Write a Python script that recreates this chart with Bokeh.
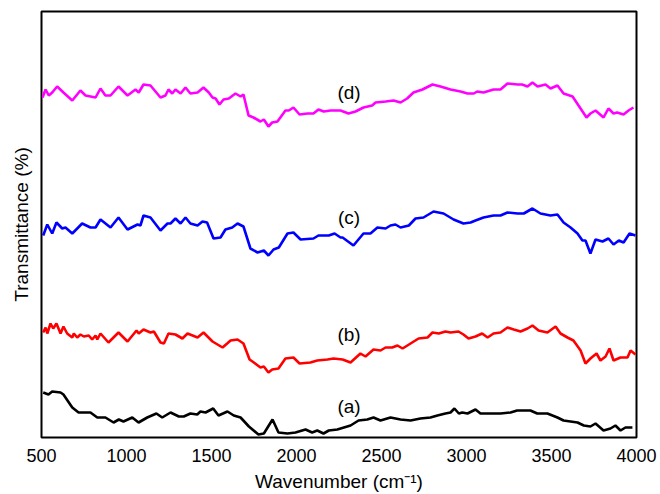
from bokeh.plotting import figure
from bokeh.models import Range1d, FixedTicker, Label
from bokeh.embed import file_html
from bokeh.resources import INLINE

# FTIR spectra, wavenumber (cm^-1) vs. transmittance (arbitrary offset units)
wn_d = [506, 524, 543, 563, 592, 629, 681, 729, 759, 818, 847, 876, 906, 953, 1006, 1053, 1072, 1100, 1141,
        1200, 1229, 1247, 1269, 1288, 1318, 1347, 1376, 1418, 1453, 1484, 1506, 1524, 1547, 1571, 1602, 1641,
        1671, 1688, 1718, 1747, 1788, 1808, 1835, 1857, 1888, 1935, 1955, 1982, 2018, 2065, 2100, 2129, 2160,
        2200, 2259, 2306, 2347, 2394, 2445, 2465, 2524, 2571, 2612, 2651, 2688, 2741, 2800, 2847, 2906, 2965,
        3006, 3043, 3063, 3100, 3159, 3200, 3241, 3300, 3327, 3359, 3388, 3418, 3465, 3494, 3535, 3571, 3624,
        3659, 3706, 3729, 3759, 3806, 3835, 3865, 3886, 3924, 3953, 3982]
tr_d = [340, 348, 342, 345, 351, 345, 337, 347, 342, 340, 349, 342, 342, 351, 342, 348, 345, 353, 352,
        340, 342, 348, 344, 348, 344, 350, 344, 345, 350, 345, 340, 339, 333, 338, 339, 344,
        341, 343, 322, 320, 316, 318, 311, 315, 316, 327, 327, 330, 323, 324, 324, 328, 326,
        327, 327, 324, 326, 330, 332, 335, 336, 337, 335, 339, 345, 348, 353, 351, 348, 346,
        344, 344, 346, 345, 348, 348, 354, 353, 353, 351, 355, 351, 353, 349, 352, 344, 341,
        332, 320, 324, 327, 320, 329, 324, 325, 323, 327, 330]

wn_c = [510, 534, 563, 588, 622, 641, 681, 739, 788, 818, 847, 906, 953, 1006, 1065, 1082, 1100, 1141,
        1200, 1241, 1259, 1288, 1318, 1347, 1376, 1418, 1447, 1474, 1512, 1553, 1582, 1622, 1653, 1688,
        1729, 1771, 1808, 1835, 1865, 1896, 1947, 1982, 2024, 2100, 2129, 2190, 2224, 2259, 2271, 2335,
        2394, 2435, 2476, 2524, 2553, 2582, 2612, 2661, 2700, 2747, 2806, 2865, 2924, 2982, 3024, 3053,
        3100, 3159, 3200, 3241, 3300, 3337, 3388, 3435, 3494, 3535, 3571, 3612, 3653, 3682, 3700, 3729,
        3759, 3800, 3835, 3865, 3896, 3924, 3959, 3994]
tr_c = [202, 213, 204, 215, 209, 210, 204, 214, 210, 210, 218, 210, 220, 208, 213, 212, 222, 220,
        207, 214, 214, 219, 214, 220, 214, 212, 216, 215, 199, 200, 208, 210, 214, 211,
        189, 185, 187, 182, 188, 190, 204, 205, 198, 199, 202, 202, 204, 200, 200, 192,
        204, 204, 210, 209, 212, 213, 210, 212, 219, 220, 226, 224, 218, 214, 215, 217,
        220, 222, 222, 225, 224, 224, 229, 224, 222, 223, 215, 210, 204, 197, 197, 184,
        198, 196, 199, 193, 197, 195, 204, 202]

wn_b = [510, 524, 534, 553, 569, 588, 612, 629, 651, 681, 690, 710, 729, 749, 778, 798, 818, 828, 847,
        894, 953, 1006, 1059, 1072, 1100, 1141, 1161, 1200, 1220, 1247, 1288, 1329, 1359, 1418, 1453,
        1506, 1565, 1592, 1612, 1653, 1688, 1724, 1749, 1788, 1808, 1835, 1857, 1894, 1935, 1982, 2018,
        2082, 2122, 2182, 2218, 2271, 2318, 2376, 2406, 2453, 2494, 2524, 2563, 2594, 2624, 2671, 2718,
        2771, 2800, 2837, 2876, 2906, 2953, 2982, 3012, 3053, 3092, 3124, 3159, 3200, 3241, 3278, 3318,
        3359, 3388, 3424, 3476, 3524, 3553, 3594, 3629, 3671, 3700, 3729, 3765, 3788, 3818, 3841, 3865,
        3906, 3947, 3965, 3994]
tr_b = [105, 110, 104, 114, 109, 114, 104, 111, 104, 100, 104, 100, 103, 101, 102, 98, 102, 98, 104,
        95, 105, 96, 107, 104, 108, 105, 106, 95, 94, 104, 103, 99, 104, 100, 105,
        96, 90, 94, 97, 98, 94, 78, 75, 70, 71, 65, 68, 69, 79, 80, 74,
        75, 77, 78, 79, 78, 75, 84, 81, 88, 87, 90, 90, 92, 89, 94, 99,
        100, 105, 104, 106, 105, 106, 103, 99, 101, 104, 100, 104, 105, 110, 108, 106,
        109, 112, 107, 105, 111, 104, 100, 97, 87, 74, 79, 84, 77, 81, 89, 77,
        80, 80, 87, 83]

wn_a = [510, 541, 563, 612, 629, 681, 718, 788, 828, 876, 924, 955, 982, 1034, 1071, 1122, 1176, 1210,
        1259, 1308, 1337, 1376, 1416, 1435, 1465, 1510, 1541, 1594, 1631, 1671, 1720, 1776, 1808, 1859,
        1894, 1947, 1994, 2053, 2092, 2122, 2159, 2190, 2240, 2318, 2365, 2416, 2453, 2494, 2553, 2612,
        2671, 2729, 2788, 2829, 2876, 2906, 2929, 2955, 2975, 3006, 3053, 3082, 3141, 3200, 3259, 3298,
        3376, 3416, 3476, 3535, 3571, 3653, 3690, 3729, 3759, 3806, 3847, 3876, 3906, 3935, 3976]
tr_a = [45, 43, 46, 45, 43, 30, 25, 25, 20, 20, 15, 18, 16, 20, 15, 20, 24, 20,
        25, 21, 21, 24, 23, 26, 25, 29, 22, 26, 22, 20, 11, 3, 4, 18,
        5, 4, 5, 8, 5, 7, 4, 7, 8, 12, 17, 18, 20, 17, 20, 18,
        17, 19, 20, 22, 24, 25, 29, 24, 25, 24, 28, 24, 24, 24, 25, 27,
        27, 24, 24, 20, 17, 15, 12, 11, 14, 7, 9, 12, 7, 10, 10]

x_ticks = [500, 1000, 1500, 2000, 2500, 3000, 3500, 4000]

series = [
    (wn_a, tr_a, "#000000", "(a)", 31),
    (wn_b, tr_b, "#ff0000", "(b)", 103),
    (wn_c, tr_c, "#0000ff", "(c)", 220),
    (wn_d, tr_d, "#ff00ff", "(d)", 345),
]
label_x = 2309

FONT = "Liberation Sans"

p = figure(width=660, height=494, output_backend="svg", toolbar_location=None,
           x_range=Range1d(500, 4000), y_range=Range1d(0, 426),
           min_border_left=41, min_border_right=24, min_border_top=11, min_border_bottom=57)

for xs, ys, color, tag, ly in series:
    p.line(xs, ys, line_color=color, line_width=2.6)
    p.add_layout(Label(x=label_x, y=ly, text=tag, text_align="center", text_baseline="middle",
                       text_font=FONT, text_font_size="19px", text_color="#000000"))

p.grid.visible = False
p.background_fill_color = "white"
p.border_fill_color = "white"
p.outline_line_color = "black"
p.outline_line_width = 2
p.outline_line_alpha = 1

p.xaxis.ticker = FixedTicker(ticks=x_ticks)
p.xaxis.axis_line_color = None
p.xaxis.major_tick_line_color = None
p.xaxis.minor_tick_line_color = None
p.xaxis.major_tick_out = 0
p.xaxis.major_tick_in = 0
p.xaxis.major_label_standoff = 11
p.xaxis.major_label_text_font = FONT
p.xaxis.major_label_text_font_size = "18px"
p.xaxis.major_label_text_color = "black"
p.xaxis.axis_label = "Wavenumber (cm\u207b\u00b9)"
p.xaxis.axis_label_text_font = FONT
p.xaxis.axis_label_text_font_size = "19px"
p.xaxis.axis_label_text_font_style = "normal"
p.xaxis.axis_label_text_color = "black"
p.xaxis.axis_label_standoff = 6

p.yaxis.ticker = FixedTicker(ticks=[])
p.yaxis.axis_line_color = None
p.yaxis.major_tick_line_color = None
p.yaxis.minor_tick_line_color = None
p.yaxis.major_tick_out = 0
p.yaxis.major_tick_in = 0
p.yaxis.major_label_text_font_size = "0px"
p.yaxis.axis_label = "Transmittance (%)"
p.yaxis.axis_label_text_font = FONT
p.yaxis.axis_label_text_font_size = "19px"
p.yaxis.axis_label_text_font_style = "normal"
p.yaxis.axis_label_text_color = "black"
p.yaxis.axis_label_standoff = 10

open("out.html", "w").write(file_html(p, INLINE))
